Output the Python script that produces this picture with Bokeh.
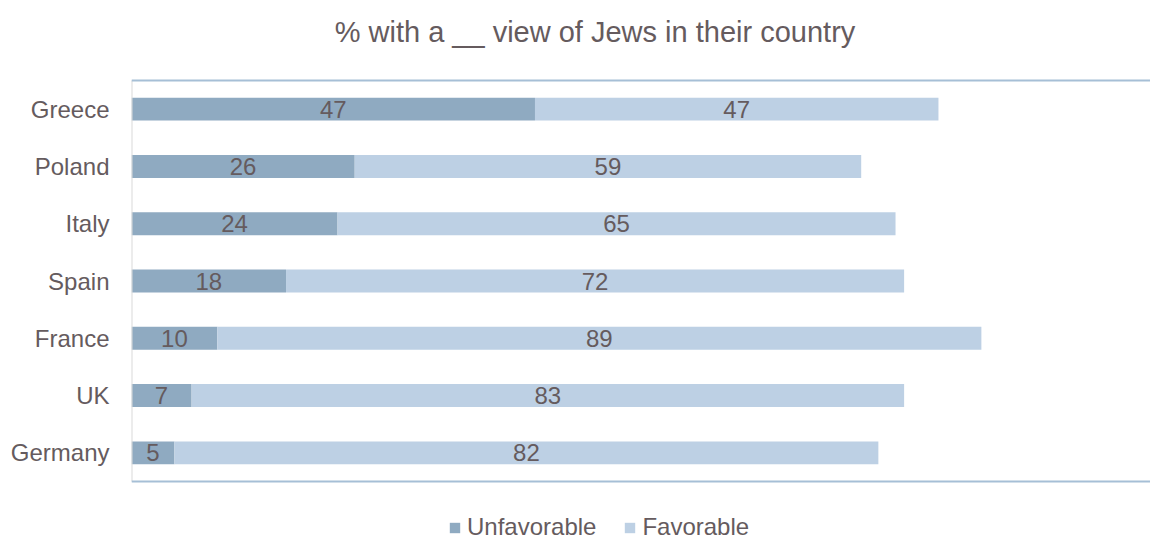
from bokeh.plotting import figure
from bokeh.models import (Range1d, ColumnDataSource, LabelSet, Legend, LegendItem,
                          Label, FixedTicker)
from bokeh.core.properties import value
from bokeh.embed import file_html
from bokeh.resources import INLINE

countries = ["Germany", "UK", "France", "Spain", "Italy", "Poland", "Greece"]
unfavorable = [5, 7, 10, 18, 24, 26, 47]
favorable = [82, 83, 89, 72, 65, 59, 47]
series_names = ["Unfavorable", "Favorable"]
title_text = "% with a __ view of Jews in their country"

TEXT = "#655B5E"
C_UNF = "#8FAAC1"
C_FAV = "#BDD0E4"
LINE_BLUE = "#A6BFD6"
AXIS_GREY = "#D9D9D9"
FONT = "Liberation Sans"

# layout (pixels)
W, H = 1150, 541
LEFT = 131
PLOT_TOP, PLOT_BOTTOM = 80, 481
n = len(countries)
row_px = (PLOT_BOTTOM - PLOT_TOP) / n
X_END = 118.7
px_per_unit = (W - LEFT) / X_END
y_top = (n - 0.5) + PLOT_TOP / row_px
y_bottom = (n - 0.5) - (H - PLOT_TOP) / row_px

idx = list(range(n))
src = ColumnDataSource(dict(
    idx=idx,
    unf=unfavorable,
    fav=favorable,
    zero=[0] * n,
    fav_left=unfavorable,
    fav_right=[u + f for u, f in zip(unfavorable, favorable)],
    unf_mid=[u / 2 for u in unfavorable],
    fav_mid=[u + f / 2 for u, f in zip(unfavorable, favorable)],
    unf_txt=[str(v) for v in unfavorable],
    fav_txt=[str(v) for v in favorable],
))

p = figure(frame_width=W - LEFT, frame_height=H, output_backend="svg",
           toolbar_location=None,
           y_range=Range1d(y_bottom, y_top), x_range=Range1d(0, X_END),
           min_border_left=LEFT, min_border_right=0, min_border_top=0,
           min_border_bottom=0, x_axis_location=None)
p.outline_line_color = None
p.background_fill_color = "white"
p.xgrid.visible = False
p.ygrid.visible = False

r1 = p.hbar(y="idx", left="zero", right="unf", height=0.4, color=C_UNF,
            line_color=None, source=src)
r2 = p.hbar(y="idx", left="fav_left", right="fav_right", height=0.4,
            color=C_FAV, line_color=None, source=src)

# axis frame lines: left grey, top & bottom blue
p.segment(x0=[0], y0=[-0.5], x1=[0], y1=[n - 0.5], line_color=AXIS_GREY,
          line_width=2)
p.segment(x0=[0, 0], y0=[-0.5, n - 0.5], x1=[X_END, X_END],
          y1=[-0.5, n - 0.5], line_color=LINE_BLUE, line_width=2)

yax = p.yaxis[0]
yax.ticker = FixedTicker(ticks=idx)
yax.major_label_overrides = {i: c for i, c in zip(idx, countries)}
yax.axis_line_color = None
yax.major_tick_line_color = None
yax.minor_tick_line_color = None
yax.major_label_text_font = FONT
yax.major_label_text_font_size = "24px"
yax.major_label_text_color = TEXT
yax.major_label_standoff = 16

for xcol, tcol in (("unf_mid", "unf_txt"), ("fav_mid", "fav_txt")):
    p.add_layout(LabelSet(x=xcol, y="idx", text=tcol, source=src,
                          text_align="center", text_baseline="middle",
                          text_font=value(FONT), text_font_size=value("24px"),
                          text_color=TEXT))

TITLE_CX, TITLE_CY = 594.5, 31
p.add_layout(Label(x=(TITLE_CX - LEFT) / px_per_unit,
                   y=y_top - TITLE_CY / row_px, text=title_text,
                   text_align="center", text_baseline="middle",
                   text_font=FONT, text_font_size="29px", text_color=TEXT))

legend = Legend(items=[LegendItem(label=series_names[0], renderers=[r1]),
                       LegendItem(label=series_names[1], renderers=[r2])],
                orientation="horizontal", location=(448 - LEFT, 0), padding=0,
                margin=0, glyph_width=13, glyph_height=13, label_standoff=6,
                spacing=27, label_text_font=FONT, label_text_font_size="24px",
                label_text_color=TEXT, border_line_color=None,
                background_fill_alpha=0)
p.add_layout(legend, "center")

open("out.html", "w").write(file_html(p, INLINE))
